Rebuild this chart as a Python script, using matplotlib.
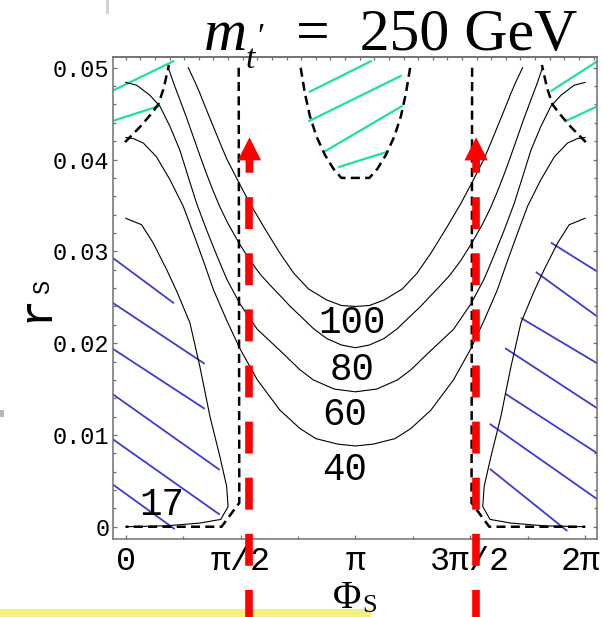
import numpy as np
import matplotlib.pyplot as plt
import matplotlib.transforms as mtransforms
from matplotlib.patches import FancyArrow, Rectangle

plt.rcParams['lines.scale_dashes'] = False

# contour lines, left half as (phi, r); the right half is the mirror about pi
c100_half = [(0.855, 0.0500), (0.95, 0.0484), (1.015, 0.0472), (1.10, 0.0455), (1.197, 0.0436),
             (1.29, 0.0418), (1.38, 0.0401), (1.54, 0.0376), (1.70, 0.0352), (1.90, 0.0325),
             (2.109, 0.0298), (2.30, 0.0276), (2.50, 0.0259), (2.75, 0.0247), (2.95, 0.0241),
             (np.pi, 0.0240)]
c80_half = [(0.582, 0.0500), (0.66, 0.0482), (0.741, 0.0465), (0.83, 0.0446), (0.923, 0.0425),
            (1.02, 0.0403), (1.107, 0.0384), (1.20, 0.0365), (1.29, 0.0348), (1.40, 0.0330),
            (1.55, 0.0309), (1.70, 0.0290), (1.85, 0.0274), (2.0, 0.0261), (2.109, 0.0252),
            (2.25, 0.0240), (2.383, 0.0230), (2.565, 0.0216), (2.75, 0.0205), (2.95, 0.0198),
            (np.pi, 0.0195)]
c60_half = [(0.0, 0.0484), (0.149, 0.0481), (0.33, 0.0470), (0.468, 0.0458), (0.605, 0.0436),
            (0.741, 0.0410), (0.855, 0.0381), (0.97, 0.0352), (1.107, 0.0323), (1.243, 0.0296),
            (1.38, 0.0270), (1.56, 0.0243), (1.80, 0.0215), (2.109, 0.0192), (2.383, 0.0171),
            (2.565, 0.0160), (2.85, 0.0150), (np.pi, 0.0147)]
c40_half = [(0.0, 0.0424), (0.1, 0.0423), (0.24, 0.0418), (0.42, 0.0403), (0.605, 0.0378),
            (0.787, 0.0349), (0.923, 0.0320), (1.06, 0.0290), (1.2, 0.0258), (1.38, 0.0225),
            (1.562, 0.0194), (1.8, 0.0160), (2.109, 0.0127), (2.383, 0.0107), (2.6, 0.0096),
            (2.9, 0.0090), (np.pi, 0.0088)]
c17_left = [(0.0, 0.0336), (0.217, 0.0329), (0.376, 0.0309), (0.56, 0.0280), (0.70, 0.0256),
            (0.878, 0.0222), (1.015, 0.0174), (1.152, 0.0120), (1.289, 0.0076), (1.38, 0.0044),
            (1.40, 0.0022), (1.30, 0.0008), (1.015, 0.0004), (0.56, 0.0001), (0.0, 0.0)]

# dashed boundaries
vdash_left = [(1.545, 0.0500), (1.553, 0.0026), (1.31, 0.0), (0.0, 0.0)]
corner_dash_left = [(-0.01, 0.0419), (0.2, 0.0436), (0.35, 0.0450), (0.445, 0.0460),
                    (0.52, 0.0478), (0.59, 0.0503)]
u_dash_half = [(2.393, 0.0500), (2.451, 0.0472), (2.52, 0.0447), (2.61, 0.0425),
               (2.725, 0.0405), (2.84, 0.0390), (2.95, 0.0380), (np.pi, 0.0380)]

# hatching (phi1, r1, phi2, r2)
green_hatch = [(-0.18, 0.0475, 0.65, 0.0507), (-0.18, 0.0442, 0.445, 0.0458),
               (5.826, 0.0475, 6.45, 0.0507), (6.02, 0.0442, 6.45, 0.0458),
               (2.52, 0.0474, 3.35, 0.0507), (2.51, 0.0442, 3.76, 0.0491),
               (2.725, 0.0409, 3.774, 0.0458), (2.92, 0.0392, 3.56, 0.0408)]
blue_hatch = [(-0.18, 0.0293, 0.65, 0.0244), (-0.18, 0.0244, 1.07, 0.0178),
              (-0.18, 0.0194, 1.07, 0.0129), (-0.18, 0.01445, 1.275, 0.00625),
              (-0.18, 0.00955, 1.275, 0.00138), (-0.18, 0.00462, 0.66, -0.0002),
              (5.826, 0.0309, 6.45, 0.0278), (5.62, 0.0277, 6.45, 0.0229),
              (5.416, 0.0227, 6.45, 0.0178), (5.20, 0.0194, 6.45, 0.0129),
              (5.20, 0.01445, 6.45, 0.0080), (4.99, 0.01115, 6.45, 0.0030),
              (4.99, 0.00625, 6.03, -0.0004)]

# contour labels (text, phi, r)
contour_labels = [('100', 3.09, 0.0222), ('80', 3.09, 0.0171), ('60', 3.0, 0.0122),
                  ('40', 3.0, 0.0062), ('17', 0.49, 0.0024)]

# red arrows
red_x = [1.692, 4.793]
red_bottom = -0.0099
red_shaft_top = 0.03856
red_tip = 0.04242

xtick_pos = [0, np.pi / 2, np.pi, 3 * np.pi / 2, 2 * np.pi]
xtick_lab = ['0', 'π/2', 'π', '3π/2', '2π']
ytick_pos = [0, 0.01, 0.02, 0.03, 0.04, 0.05]
ytick_lab = ['0', '0.01', '0.02', '0.03', '0.04', '0.05']


def full_curve(half):
    phi = [p for p, r in half]
    r = [v for p, v in half]
    phi = phi + [2 * np.pi - p for p in phi[-2::-1]]
    r = r + r[-2::-1]
    return phi, r


def mirrored(pts):
    return [2 * np.pi - p for p, r in pts], [r for p, r in pts]


fig = plt.figure(figsize=(6.03, 6.17), dpi=100)
ax = fig.add_axes([0.1882, 0.1259, 0.8013, 0.7817])
ax.set_xlim(-0.168, 6.442)
ax.set_ylim(-0.00137, 0.05117)

frame_col = '#707070'
for s in ax.spines.values():
    s.set_color(frame_col)
    s.set_linewidth(1.1)

green = '#1fe0a2'
blue = '#3c3cd2'
for p1, r1, p2, r2 in green_hatch:
    ax.plot([p1, p2], [r1, r2], color=green, lw=1.6)
for p1, r1, p2, r2 in blue_hatch:
    ax.plot([p1, p2], [r1, r2], color=blue, lw=1.3)

for half in [c100_half, c80_half, c60_half, c40_half]:
    phi, r = full_curve(half)
    ax.plot(phi, r, color='black', lw=0.8)
ax.plot([p for p, r in c17_left], [r for p, r in c17_left], color='black', lw=0.8)
ax.plot(*mirrored(c17_left), color='black', lw=0.8)

dash_kw = dict(color='black', lw=1.8, dashes=(6.5, 3.8))
for pts in [vdash_left, corner_dash_left]:
    ax.plot([p for p, r in pts], [r for p, r in pts], **dash_kw)
    ax.plot(*mirrored(pts), **dash_kw)
phi, r = full_curve(u_dash_half)
ax.plot(phi, r, **dash_kw)

for txt, p, r in contour_labels:
    ax.text(p, r, txt, ha='center', va='center', fontsize=27, family='Liberation Mono')

for x in red_x:
    ax.plot([x, x], [red_shaft_top, red_bottom], color='red', lw=5.5,
            linestyle=(23.0, (23.0, 17.4)), solid_capstyle='butt', dash_capstyle='butt',
            clip_on=False, zorder=5)
    ax.add_patch(FancyArrow(x, red_shaft_top, 0, red_tip - red_shaft_top, width=0.105,
                            head_width=0.319, head_length=0.00251,
                            length_includes_head=True, color='red', lw=0, zorder=5))

ax.set_xticks(xtick_pos)
ax.set_xticklabels(xtick_lab, fontsize=24, family='Liberation Mono')
ax.set_xticks(np.arange(0, 6.5, np.pi / 4), minor=True)
ax.set_yticks(ytick_pos)
ax.set_yticklabels(ytick_lab, fontsize=17, family='Liberation Mono')
ax.set_yticks(np.arange(0, 0.0512, 0.002), minor=True)
ax.tick_params(which='both', direction='in', color=frame_col, right=True)
ax.tick_params(which='major', length=3.2, width=0.9)
ax.tick_params(which='minor', length=2.0, width=0.9)
ax.tick_params(axis='x', pad=5)
ax.tick_params(axis='y', pad=3)

# the last label sits at the picture edge, pull it in a little
last = ax.get_xticklabels()[-1]
last.set_transform(last.get_transform() + mtransforms.ScaledTranslation(-4 / 100, 0, fig.dpi_scale_trans))

top = ax.secondary_xaxis('top')
top.set_xticks(np.arange(0, 6.5, 1.0))
top.set_xticks(np.arange(0, 6.5, 0.2), minor=True)
top.set_xticklabels([])
top.tick_params(which='both', direction='in', color=frame_col, length=2.5, width=0.9)
top.spines['top'].set_color(frame_col)
top.spines['top'].set_linewidth(1.1)

# title and axis labels
fig.text(204 / 603, 1 - 50 / 617, 'm', fontsize=43, style='italic',
         family='Liberation Serif', va='baseline')
fig.text(246 / 603, 1 - 68 / 617, 't', fontsize=24, style='italic',
         family='Liberation Serif', va='baseline')
fig.text(257 / 603, 1 - 46 / 617, '′', fontsize=24, family='Liberation Serif', va='baseline')
fig.text(577 / 603, 1 - 50 / 617, '=  250 GeV', fontsize=43, family='Liberation Serif',
         ha='right', va='baseline')

fig.text(333 / 603, 1 - 608 / 617, 'Φ', fontsize=28, family='Liberation Serif', va='baseline')
fig.text(362 / 603, 1 - 612 / 617, 'S', fontsize=19, family='Liberation Serif', va='baseline')

fig.text(57 / 603, 1 - 322 / 617, 'r', fontsize=34, family='Liberation Mono', rotation=90,
         ha='right', va='bottom')
fig.text(54 / 603, 1 - 294 / 617, 'S', fontsize=17, family='Liberation Mono', rotation=90,
         ha='right', va='bottom')

# stray marks around the picture
fig.add_artist(Rectangle((0, 0), 370.7 / 603, 7.7 / 617, transform=fig.transFigure,
                         color='#f4f07e', lw=0, zorder=-1))
fig.add_artist(Rectangle((106 / 603, 1 - 14 / 617), 3 / 603, 14 / 617,
                         transform=fig.transFigure, color='#d4d4d4', lw=0, zorder=-1))
fig.add_artist(Rectangle((0, 1 - 417 / 617), 4 / 603, 7 / 617,
                         transform=fig.transFigure, color='#b8b8b8', lw=0, zorder=-1))

fig.savefig('out.png', dpi=100)
